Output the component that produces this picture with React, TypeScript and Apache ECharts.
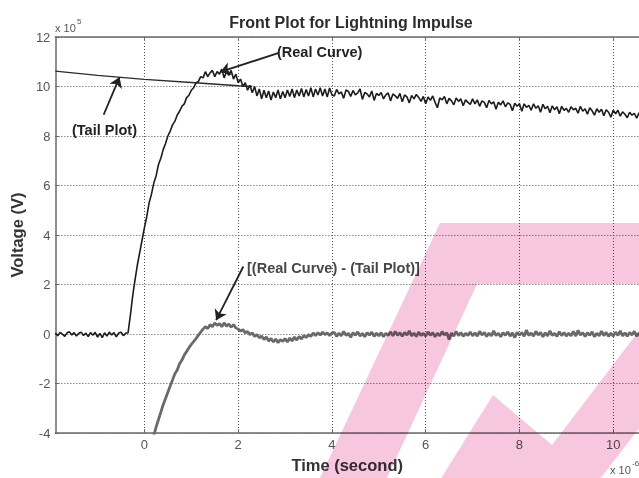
import React, { useEffect, useRef } from "react";
import * as echarts from "echarts";

// ---------- data (time in 1e-6 s, voltage in 1e5 V) ----------
const T_STEP = 0.05;

const REAL_BASE_START = -1.9;
const realBaseline = [
  0.04, -0.07, 0.07, 0.0, -0.09, 0.05, 0.09, -0.04, 0.06, -0.08, 0.03, 0.08, -0.06, 0.04, -0.1, 0.06,
  -0.05, 0.07, -0.12, 0.03, -0.14, 0.05, -0.08, 0.08, -0.04, 0.06, -0.11, 0.04, 0.07, -0.06, 0.03,
];

const REAL_FRONT_START = -0.35;
const realFront = [
  0.05, 0.75, 1.55, 2.2, 2.8, 3.3, 3.8, 4.3, 4.75, 5.3, 5.65, 6.1, 6.4, 6.85, 7.1, 7.45, 7.7, 8.0, 8.2, 8.45,
  8.6, 8.85, 9.0, 9.2, 9.3, 9.55, 9.65, 9.85, 9.95, 10.15, 10.2, 10.4, 10.35, 10.6, 10.4, 10.55, 10.65, 10.4,
  10.6, 10.5, 10.7, 10.35, 10.6, 10.45, 10.65, 10.3, 10.5,
];

const REAL_TAIL_START = 2.0;
const realTail = [
  10.15, 10.3, 10.0, 10.15, 9.85, 10.05, 9.75, 10.0, 9.62, 9.9, 9.5, 9.85, 9.55, 9.82, 9.45, 9.78, 9.55, 9.86, 9.5, 9.8,
  9.55, 9.86, 9.6, 9.9, 9.55, 9.86, 9.62, 9.92, 9.58, 9.88, 9.62, 9.95, 9.58, 9.9, 9.66, 9.95, 9.62, 9.9, 9.58, 9.94, 9.66,
  9.62, 9.88, 9.7, 9.78, 9.52, 9.86, 9.8, 9.6, 9.84, 9.66, 9.74, 9.9, 9.48, 9.76, 9.7, 9.58, 9.82, 9.44, 9.72, 9.64,
  9.76, 9.5, 9.66, 9.74, 9.42, 9.7, 9.62, 9.52, 9.72, 9.38, 9.66, 9.58, 9.34, 9.64, 9.5, 9.68, 9.56, 9.4, 9.6, 9.3,
  9.58, 9.44, 9.62, 9.36, 9.14, 9.54, 9.46, 9.6, 9.3, 9.52, 9.42, 9.26, 9.54, 9.4, 9.5, 9.22, 9.46, 9.36, 9.28, 9.5,
  9.3, 9.46, 9.2, 9.42, 9.36, 9.14, 9.44, 9.3, 9.38, 9.08, 9.36, 9.26, 9.42, 9.18, 9.34, 9.28, 9.02, 9.32, 9.2, 9.3,
  9.0, 9.3, 9.16, 9.24, 9.04, 9.3, 9.12, 9.22, 8.96, 9.28, 9.1, 9.2, 8.94, 9.22, 9.06, 9.18, 8.9, 9.2, 9.04, 9.12,
  8.96, 9.18, 9.06, 9.12, 8.92, 9.2, 9.0, 9.1, 8.88, 9.14, 9.02, 8.84, 9.1, 8.96, 9.08, 8.82, 9.06, 8.96, 8.76, 9.04,
  8.9, 9.04, 8.8, 8.98, 8.88, 8.74, 8.96, 8.84, 8.92, 8.72, 8.94, 8.8, 8.9, 8.76,
];

const DIFF_FRONT_START = 0.2;
const diffFront = [
  -4.1, -3.75, -3.45, -3.15, -2.85, -2.6, -2.35, -2.1, -1.85, -1.6, -1.45, -1.2, -1.05, -0.85, -0.7, -0.55,
  -0.42, -0.3, -0.18, -0.05, 0.08, 0.2, 0.3, 0.22, 0.38, 0.3, 0.45, 0.35, 0.42, 0.3, 0.45, 0.32, 0.4, 0.28, 0.38, 0.25,
];

const DIFF_TAIL_START = 2.0;
const diffTail = [
  0.2, 0.12, 0.18, 0.05, 0.1, -0.02, 0.05, -0.1, -0.02, -0.15, -0.08, -0.22, -0.12, -0.28, -0.18, -0.32, -0.2,
  -0.35, -0.22, -0.3, -0.18, -0.32, -0.16, -0.28, -0.12, -0.24, -0.1, -0.2, -0.06, -0.14, -0.02, -0.1, 0.04,
  -0.06, 0.06, -0.04, 0.08, -0.02, 0.05, -0.06, 0.04,
  0.07, -0.09, 0.04, -0.07, 0.11, -0.05, 0.03, -0.13, 0.06, -0.05, 0.09, -0.08, 0.03, -0.11, 0.05, -0.04, 0.08, -0.09, 0.04, -0.07,
  0.06, -0.11, 0.03, -0.06, 0.09, -0.07, 0.11, -0.05, 0.05, -0.09, 0.07, -0.04, 0.13, -0.07, 0.04, -0.1, 0.08, -0.06, 0.03, -0.08,
  0.09, -0.05, 0.06, -0.11, 0.03, -0.07, 0.1, -0.04, 0.05, -0.22, 0.04, -0.08, 0.11, -0.06, 0.06, -0.09, 0.03, -0.05, 0.08, -0.07,
  0.05, -0.08, 0.11, -0.04, 0.07, -0.1, 0.04, -0.07, 0.13, -0.06, 0.03, -0.11, 0.06, -0.05, 0.09, -0.08, 0.05, -0.14, 0.07, -0.04,
  0.06, -0.09, 0.16, -0.06, 0.04, -0.08, 0.11, -0.04, 0.07, -0.11, 0.05, -0.07, 0.13, -0.05, 0.03, -0.09, 0.1, -0.06, 0.06, -0.08,
  0.04, -0.07, 0.11, -0.08, 0.15, -0.04, 0.06, -0.1, 0.05, -0.05, 0.09, -0.11, 0.03, -0.07, 0.12, -0.06, 0.07, -0.09, 0.04, -0.08,
  0.08, -0.05, 0.13, -0.07, 0.05, -0.09, 0.07, -0.04, 0.11, -0.08, 0.04, -0.06, 0.09, -0.07,
];

const tailTimes = [-1.9, -1, 0, 1, 2, 2.3];
const tailValues = [10.62, 10.45, 10.29, 10.16, 10.03, 10.0];

const xTicks = [0, 2, 4, 6, 8, 10];

// annotation arrows: [fromT, fromV, toT, toV]
const arrowRealCurve = [2.85, 11.35, 1.62, 10.59];
const arrowTailPlot = [-0.87, 8.86, -0.53, 10.38];
const arrowDiff = [2.11, 2.73, 1.53, 0.56];

// ---------- helpers ----------
function toPairs(start: number, values: number[]) {
  return values.map((v, i) => [Math.round((start + i * T_STEP) * 100) / 100, v]);
}

const FONT = '"Liberation Sans", Arial, Helvetica, sans-serif';
const PINK = "#f7c6df";

export default function App() {
  const baseRef = useRef<HTMLDivElement>(null);
  const overRef = useRef<HTMLDivElement>(null);

  useEffect(() => {
    document.body.style.margin = "0";
    if (!baseRef.current || !overRef.current) return;
    const chart = echarts.init(baseRef.current, null, { renderer: "svg" });
    const over = echarts.init(overRef.current, null, { renderer: "svg" });

    const realData = [
      ...toPairs(REAL_BASE_START, realBaseline),
      ...toPairs(REAL_FRONT_START, realFront),
      ...toPairs(REAL_TAIL_START, realTail),
    ];
    const diffData = [...toPairs(DIFF_FRONT_START, diffFront), ...toPairs(DIFF_TAIL_START, diffTail)];
    const tailData = tailTimes.map((t, i) => [t, tailValues[i]]);

    const arrow = (a: number[]) => [{ coord: [a[0], a[1]] }, { coord: [a[2], a[3]] }];

    const axisLine = { show: true, onZero: false, lineStyle: { color: "#6b6b6b", width: 1.5 } };
    const tickStyle = { color: "#6b6b6b", width: 1 };
    const gridLine = { show: true, lineStyle: { type: [1, 2], color: "#505050", width: 1 } };
    const labelStyle = { color: "#555", fontSize: 13, fontFamily: FONT };
    const nameStyle = { color: "#333", fontSize: 16.5, fontWeight: "bold", fontFamily: FONT };
    const annot = (text: string, x: number, y: number, fill: string) => ({
      type: "text",
      x,
      y,
      silent: true,
      z: 50,
      style: { text, fill, font: `bold 14.5px ${FONT}`, verticalAlign: "middle", align: "left" },
    });

    chart.setOption({
      animation: false,
      backgroundColor: "#ffffff",
      title: {
        text: "Front Plot for Lightning Impulse",
        left: 346,
        top: 9,
        textAlign: "center",
        textStyle: { fontFamily: FONT, fontSize: 16, fontWeight: "bold", color: "#2b2b2b" },
      },
      grid: { left: 54, right: 0, top: 37, bottom: 42 },
      xAxis: [
        {
          type: "value",
          min: -1.9,
          max: 10.55,
          position: "bottom",
          name: "Time (second)",
          nameLocation: "middle",
          nameGap: 18,
          nameTextStyle: nameStyle,
          axisLine,
          axisTick: { show: true, inside: true, length: 4, customValues: xTicks, lineStyle: tickStyle },
          axisLabel: { ...labelStyle, margin: 5, customValues: xTicks },
          splitLine: gridLine,
        },
        {
          type: "value",
          min: -1.9,
          max: 10.55,
          position: "top",
          axisLine,
          axisTick: { show: true, inside: true, length: 4, customValues: xTicks, lineStyle: tickStyle },
          axisLabel: { show: false, customValues: xTicks },
          splitLine: { show: false },
        },
      ],
      yAxis: {
        type: "value",
        min: -4,
        max: 12,
        interval: 2,
        name: "Voltage (V)",
        nameLocation: "middle",
        nameGap: 28,
        nameRotate: 90,
        nameTextStyle: nameStyle,
        axisLine,
        axisTick: { show: true, inside: true, length: 4, lineStyle: tickStyle },
        axisLabel: { ...labelStyle, margin: 5 },
        splitLine: gridLine,
      },
      graphic: [
        annot("(Real Curve)", 277, 52, "#222"),
        annot("(Tail Plot)", 72, 130, "#222"),
        annot("[(Real Curve) - (Tail Plot)]", 247, 268, "#474747"),
        { type: "text", x: 55, y: 28, silent: true, style: { text: "x 10", fill: "#555", font: `11px ${FONT}`, verticalAlign: "middle" } },
        { type: "text", x: 77, y: 21, silent: true, style: { text: "5", fill: "#555", font: `8px ${FONT}`, verticalAlign: "middle" } },
        { type: "text", x: 610, y: 470, silent: true, style: { text: "x 10", fill: "#555", font: `11px ${FONT}`, verticalAlign: "middle" } },
        { type: "text", x: 632, y: 463, silent: true, style: { text: "-6", fill: "#555", font: `8px ${FONT}`, verticalAlign: "middle" } },
      ],
      series: [
        {
          name: "Tail Plot",
          type: "line",
          data: tailData,
          showSymbol: false,
          symbol: "none",
          lineStyle: { color: "#2b2b2b", width: 1.4 },
          z: 2,
          markLine: {
            silent: true,
            symbol: ["none", "arrow"],
            symbolSize: 10,
            label: { show: false },
            lineStyle: { type: "solid", color: "#222", width: 1.8 },
            emphasis: { disabled: true },
            data: [arrow(arrowRealCurve), arrow(arrowTailPlot), arrow(arrowDiff)],
          },
        },
        {
          name: "Real Curve",
          type: "line",
          data: realData,
          showSymbol: false,
          symbol: "none",
          lineStyle: { color: "#1c1c1c", width: 1.6 },
          z: 3,
        },
        {
          name: "(Real Curve) - (Tail Plot)",
          type: "line",
          data: diffData,
          showSymbol: false,
          symbol: "none",
          lineStyle: { color: "#6a6a6a", width: 2.8 },
          z: 3,
        },
      ],
    });

    // pink watermark, multiplied over the figure
    over.setOption({
      animation: false,
      graphic: [
        {
          type: "polygon",
          silent: true,
          shape: { points: [[440, 223], [641, 223], [641, 284], [477, 284], [386, 480], [319, 480]] },
          style: { fill: PINK },
        },
        {
          type: "polygon",
          silent: true,
          shape: { points: [[440, 480], [493, 395], [552, 445], [641, 328], [641, 426], [599, 480]] },
          style: { fill: PINK },
        },
      ],
    });

    return () => {
      chart.dispose();
      over.dispose();
    };
  }, []);

  return (
    <div style={{ position: "relative", width: 639, height: 478, background: "#fff" }}>
      <div ref={baseRef} style={{ position: "absolute", left: 0, top: 0, width: 639, height: 478 }} />
      <div
        ref={overRef}
        style={{
          position: "absolute",
          left: 0,
          top: 0,
          width: 639,
          height: 478,
          mixBlendMode: "multiply",
          pointerEvents: "none",
        }}
      />
    </div>
  );
}
